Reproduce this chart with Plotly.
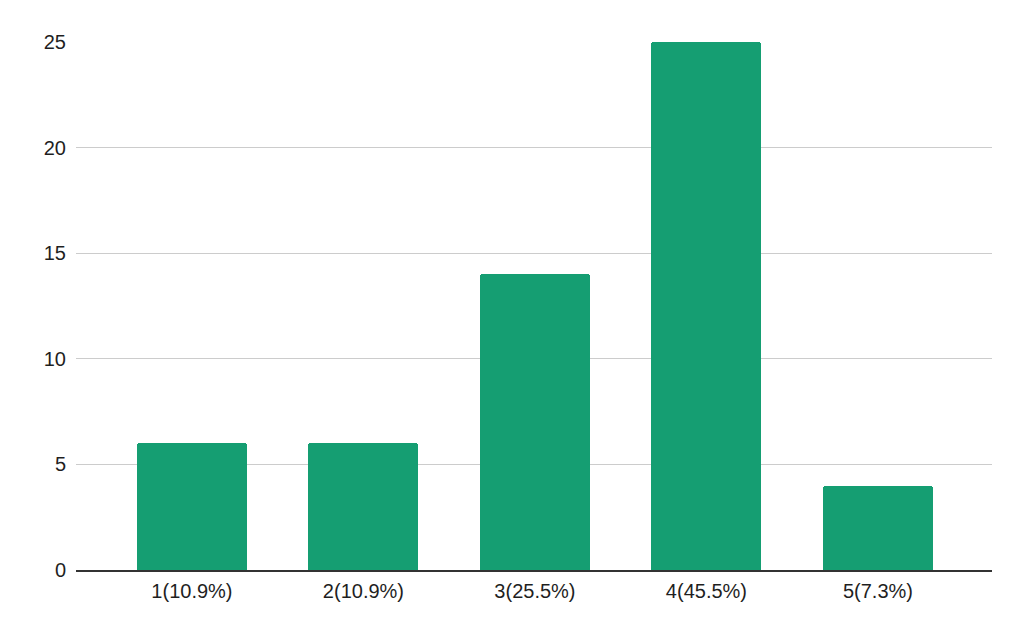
import plotly.graph_objects as go

categories = ["1(10.9%)", "2(10.9%)", "3(25.5%)", "4(45.5%)", "5(7.3%)"]
values = [6, 6, 14, 25, 4]
y_ticks = [0, 5, 10, 15, 20, 25]

fig = go.Figure()
fig.add_trace(go.Bar(
    x=list(range(len(categories))),
    y=values,
    width=0.641,
    marker=dict(color="#159E72", cornerradius=3, line=dict(width=0)),
    hoverinfo="x+y",
))

fig.update_layout(
    width=1024, height=633,
    margin=dict(l=68, r=40, t=34, b=71, autoexpand=False),
    plot_bgcolor="white", paper_bgcolor="white",
    font=dict(family="Liberation Sans, Arial, sans-serif", size=20, color="#1f1f1f"),
    showlegend=False,
    bargap=0,
)
fig.update_xaxes(
    range=[-0.676, 4.665],
    tickvals=list(range(len(categories))),
    ticktext=categories,
    showgrid=False,
    showline=True, linecolor="#333333", linewidth=1.5,
    ticks="", zeroline=False,
    automargin=False,
    ticklabelstandoff=2,
)
fig.update_yaxes(
    range=[0, 25],
    tickvals=y_ticks,
    showgrid=True, gridcolor="#CCCCCC", gridwidth=1,
    zeroline=False, showline=False, ticks="",
    ticklabelstandoff=9,
    automargin=False,
)
fig.write_html("out.html")
